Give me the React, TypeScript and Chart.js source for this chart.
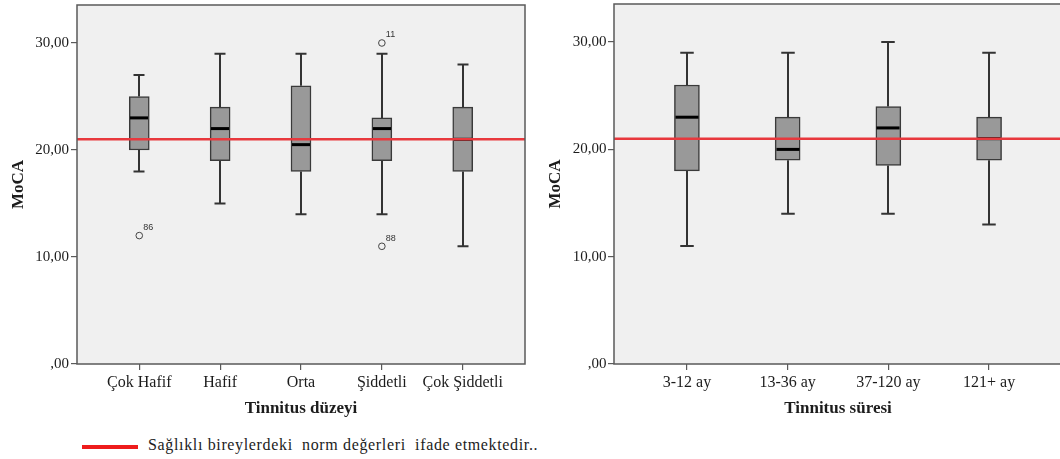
import React, { useEffect, useRef } from "react";
import { Chart, registerables } from "chart.js";

Chart.register(...registerables);

// ---------- data ----------
const NORM_VALUE = 21;
const yTickValues = [0, 10, 20, 30];
const yTickLabels = [",00", "10,00", "20,00", "30,00"];

const levelCategories = ["Çok Hafif", "Hafif", "Orta", "Şiddetli", "Çok Şiddetli"];
const levelMin = [18, 15, 14, 14, 11];
const levelQ1 = [20, 19, 18, 19, 18];
const levelMedian = [23, 22, 20.5, 22, 21];
const levelQ3 = [25, 24, 26, 23, 24];
const levelMax = [27, 29, 29, 29, 28];
const levelOutlierCats = [0, 3, 3];
const levelOutlierValues = [12, 30, 11];
const levelOutlierLabels = ["86", "11", "88"];

const durationCategories = ["3-12 ay", "13-36 ay", "37-120 ay", "121+ ay"];
const durationMin = [11, 14, 14, 13];
const durationQ1 = [18, 19, 18.5, 19];
const durationMedian = [23, 20, 22, 21];
const durationQ3 = [26, 23, 24, 23];
const durationMax = [29, 29, 30, 29];
const durationOutlierCats: number[] = [];
const durationOutlierValues: number[] = [];
const durationOutlierLabels: string[] = [];

const legendText = "Sağlıklı bireylerdeki  norm değerleri  ifade etmektedir..";

// ---------- styles ----------
const SERIF = "'Liberation Serif', 'Times New Roman', serif";
const TEXT = "#1c1c1c";
const PLOT_BG = "#f0f0f0";
const FRAME = "#5a5a5a";
const BOX_FILL = "#999999";
const BOX_EDGE = "#3a3a3a";
const WHISKER = "#333333";
const NORM_RED = "#e8383d";

type PanelProps = {
  categories: string[];
  min: number[];
  q1: number[];
  median: number[];
  q3: number[];
  max: number[];
  outCats: number[];
  outValues: number[];
  outLabels: string[];
  xTitle: string;
  xMin: number;
  xMax: number;
  boxWidth: number;
  capWidth: number;
  yAxisWidth: number;
  yTitlePad: number;
  yTickPad: number;
  padRight: number;
  width: number;
  height: number;
  left: number;
};

function Panel(p: PanelProps) {
  const ref = useRef<HTMLCanvasElement | null>(null);
  useEffect(() => {
    const canvas = ref.current;
    if (!canvas) return;

    const boxPlugin = {
      id: "boxplotDraw",
      beforeDraw(chart: any) {
        const { ctx, chartArea: a } = chart;
        ctx.save();
        ctx.fillStyle = PLOT_BG;
        ctx.fillRect(a.left, a.top, a.right - a.left, a.bottom - a.top);
        ctx.restore();
      },
      beforeDatasetDraw(chart: any, args: any) {
        if (args.index !== 0) return;
        const { ctx, scales } = chart;
        const xs = scales.x;
        const ys = scales.y;
        ctx.save();
        ctx.strokeStyle = WHISKER;
        ctx.lineWidth = 2;
        p.categories.forEach((_, i) => {
          const x = Math.round(xs.getPixelForValue(i));
          const yMin = ys.getPixelForValue(p.min[i]);
          const yQ1 = ys.getPixelForValue(p.q1[i]);
          const yQ3 = ys.getPixelForValue(p.q3[i]);
          const yMax = ys.getPixelForValue(p.max[i]);
          ctx.beginPath();
          ctx.moveTo(x, yMin);
          ctx.lineTo(x, yQ1);
          ctx.moveTo(x, yQ3);
          ctx.lineTo(x, yMax);
          ctx.moveTo(x - p.capWidth / 2, yMin);
          ctx.lineTo(x + p.capWidth / 2, yMin);
          ctx.moveTo(x - p.capWidth / 2, yMax);
          ctx.lineTo(x + p.capWidth / 2, yMax);
          ctx.stroke();
        });
        ctx.restore();
      },
      afterDatasetDraw(chart: any, args: any) {
        if (args.index !== 0) return;
        const { ctx, scales } = chart;
        const xs = scales.x;
        const ys = scales.y;
        ctx.save();
        ctx.strokeStyle = "#000000";
        ctx.lineWidth = 3;
        p.categories.forEach((_, i) => {
          const x = Math.round(xs.getPixelForValue(i));
          const y = ys.getPixelForValue(p.median[i]);
          ctx.beginPath();
          ctx.moveTo(x - p.boxWidth / 2 + 1, y);
          ctx.lineTo(x + p.boxWidth / 2 - 1, y);
          ctx.stroke();
        });
        ctx.restore();
      },
      afterDatasetsDraw(chart: any) {
        const { ctx, scales, chartArea: a } = chart;
        const xs = scales.x;
        const ys = scales.y;
        ctx.save();
        // outlier case labels
        ctx.fillStyle = "#333333";
        ctx.font = "9px 'Liberation Sans', Arial, sans-serif";
        ctx.textAlign = "left";
        ctx.textBaseline = "middle";
        p.outCats.forEach((c, k) => {
          const x = xs.getPixelForValue(c);
          const y = ys.getPixelForValue(p.outValues[k]);
          ctx.fillText(p.outLabels[k], x + 4, y - 8);
        });
        // norm reference line
        const yn = ys.getPixelForValue(NORM_VALUE);
        ctx.strokeStyle = NORM_RED;
        ctx.lineWidth = 2.5;
        ctx.beginPath();
        ctx.moveTo(a.left, yn);
        ctx.lineTo(a.right, yn);
        ctx.stroke();
        ctx.restore();
      },
      afterDraw(chart: any) {
        const { ctx, chartArea: a } = chart;
        ctx.save();
        ctx.strokeStyle = FRAME;
        ctx.lineWidth = 1.5;
        ctx.strokeRect(a.left, a.top, a.right - a.left, a.bottom - a.top);
        ctx.restore();
      },
    };

    const chart = new Chart(canvas, {
      type: "bar",
      data: {
        datasets: [
          {
            type: "bar",
            data: p.categories.map((_, i) => ({ x: i, y: [p.q1[i], p.q3[i]] })) as any,
            backgroundColor: BOX_FILL,
            borderColor: BOX_EDGE,
            borderWidth: 1.5,
            borderSkipped: false,
            barThickness: p.boxWidth,
            order: 3,
          } as any,
          {
            type: "scatter",
            data: p.outCats.map((c, k) => ({ x: c, y: p.outValues[k] })),
            pointRadius: 3.3,
            pointBorderWidth: 1,
            pointBorderColor: "#444444",
            pointBackgroundColor: "rgba(0,0,0,0)",
            order: 1,
          } as any,
        ],
      },
      options: {
        responsive: false,
        animation: false,
        devicePixelRatio: 1,
        layout: { padding: { top: 4, right: p.padRight, left: 0, bottom: 0 } },
        plugins: { legend: { display: false }, tooltip: { enabled: false } },
        scales: {
          x: {
            type: "linear",
            offset: false,
            min: p.xMin,
            max: p.xMax,
            afterBuildTicks: (s: any) => {
              s.ticks = p.categories.map((_, i) => ({ value: i }));
            },
            afterFit: (s: any) => {
              s.height = p.height - 364;
              s.paddingLeft = 0;
              s.paddingRight = 0;
            },
            ticks: {
              autoSkip: false,
              maxRotation: 0,
              padding: 3,
              color: TEXT,
              font: { family: SERIF, size: 16 },
              callback: (_v: any, i: number) => p.categories[i],
            },
            grid: {
              offset: false,
              drawOnChartArea: false,
              drawTicks: true,
              tickLength: 6,
              color: FRAME,
              lineWidth: 1.2,
            },
            border: { display: false },
            title: {
              display: true,
              text: p.xTitle,
              color: TEXT,
              font: { family: SERIF, size: 17, weight: "bold" },
              padding: { top: 0, bottom: 5.8 },
            },
          },
          y: {
            type: "linear",
            min: 0,
            max: 33.55,
            afterBuildTicks: (s: any) => {
              s.ticks = yTickValues.map((v) => ({ value: v }));
            },
            afterFit: (s: any) => {
              s.width = p.yAxisWidth;
              s.paddingTop = 0;
              s.paddingBottom = 0;
            },
            ticks: {
              padding: p.yTickPad,
              color: TEXT,
              font: { family: SERIF, size: 15 },
              callback: (_v: any, i: number) => yTickLabels[i],
            },
            grid: { drawOnChartArea: false, drawTicks: true, tickLength: 6, color: FRAME, lineWidth: 1.2 },
            border: { display: false },
            title: {
              display: true,
              text: "MoCA",
              color: TEXT,
              font: { family: SERIF, size: 17, weight: "bold" },
              padding: { top: p.yTitlePad, bottom: 0 },
            },
          },
        },
      } as any,
      plugins: [boxPlugin],
    });
    return () => chart.destroy();
  }, []);

  return (
    <canvas
      ref={ref}
      width={p.width}
      height={p.height}
      style={{ position: "absolute", left: p.left, top: 0, width: p.width, height: p.height }}
    />
  );
}

export default function App() {
  return (
    <div
      style={{
        position: "fixed",
        left: 0,
        top: 0,
        width: 1060,
        height: 459,
        overflow: "hidden",
        background: "#ffffff",
      }}
    >
      <Panel
        categories={levelCategories}
        min={levelMin}
        q1={levelQ1}
        median={levelMedian}
        q3={levelQ3}
        max={levelMax}
        outCats={levelOutlierCats}
        outValues={levelOutlierValues}
        outLabels={levelOutlierLabels}
        xTitle="Tinnitus düzeyi"
        xMin={-0.77}
        xMax={4.77}
        boxWidth={20}
        capWidth={11}
        yAxisWidth={77}
        yTitlePad={8.4}
        yTickPad={2}
        padRight={4.5}
        width={530}
        height={425}
        left={0}
      />
      <Panel
        categories={durationCategories}
        min={durationMin}
        q1={durationQ1}
        median={durationMedian}
        q3={durationQ3}
        max={durationMax}
        outCats={durationOutlierCats}
        outValues={durationOutlierValues}
        outLabels={durationOutlierLabels}
        xTitle="Tinnitus süresi"
        xMin={-0.724}
        xMax={3.724}
        boxWidth={25}
        capWidth={13.5}
        yAxisWidth={84}
        yTitlePad={15.2}
        yTickPad={1.5}
        padRight={8}
        width={540}
        height={425}
        left={530}
      />
      <div
        style={{
          position: "absolute",
          left: 82,
          top: 445,
          width: 56,
          height: 4,
          background: "#ee1c1c",
        }}
      />
      <div
        style={{
          position: "absolute",
          left: 148,
          top: 437,
          fontFamily: SERIF,
          fontSize: 16,
          lineHeight: "16px",
          letterSpacing: "0.65px",
          color: TEXT,
          whiteSpace: "pre",
        }}
      >
        {legendText}
      </div>
    </div>
  );
}
